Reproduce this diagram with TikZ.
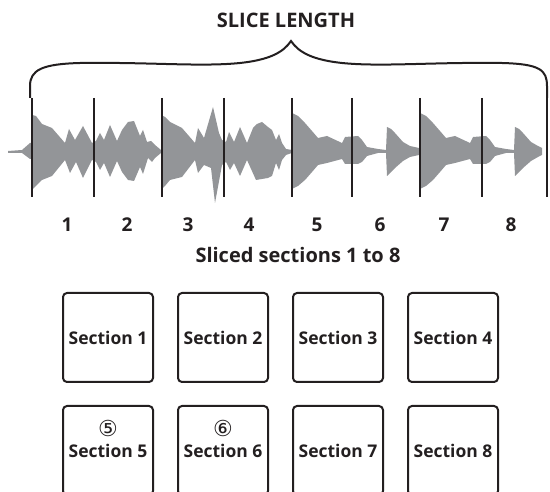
\documentclass[tikz,border=0pt]{standalone}
\usepackage{fontspec}
\setmainfont{Open Sans}
\newfontfamily\circfont{DejaVu Sans}
\usetikzlibrary{positioning}

\definecolor{wavegray}{RGB}{147,149,152}
\definecolor{inkblack}{RGB}{35,31,32}

\tikzset{
  pad/.style={draw=inkblack, line width=2pt, rounded corners=4pt,
    minimum width=90pt, minimum height=89pt, inner sep=0pt,
    font=\bfseries\fontsize{17.5}{20}\selectfont, text=inkblack},
  slicemark/.style={draw=inkblack, line width=2.5pt},
  slicenum/.style={font=\bfseries\fontsize{19}{22}\selectfont, text=inkblack},
  heading/.style={font=\bfseries\fontsize{20}{24}\selectfont, text=inkblack},
  circnum/.style={font=\circfont\fontsize{22}{24}\selectfont, text=inkblack, inner sep=0pt},
}

\begin{document}
\begin{tikzpicture}[x=1pt, y=-1pt]
 \useasboundingbox (0,0) rectangle (550,492);
 \clip (0,0) rectangle (550,492);

 % title and brace
 \node[heading] (title) at (286,20) {SLICE LENGTH};
 \draw[inkblack, line width=2pt]
   (30,98) -- (30,86) .. controls (30,70) and (42,64) .. (80,63)
   .. controls (150,62) and (200,67) .. (240,63)
   .. controls (268,60) and (283,53) .. (291,41)
   .. controls (299,53) and (314,60) .. (342,63)
   .. controls (382,67) and (432,62) .. (502,63)
   .. controls (540,64) and (547,70) .. (547,86) -- (547,98);

 % waveform, slices 1 to 4
 \fill[wavegray] (8,151) -- (22,150) -- (30,143) -- (32,143) -- (32,115) -- (36,116)
   -- (42,124) -- (52,128) -- (65,143) -- (69,129) -- (75,140) -- (83,126) -- (92,143)
   -- (96,141) -- (100,133) -- (104,140) -- (110,125) -- (117,141) -- (122,130)
   -- (128,122) -- (134,121) -- (140,136) -- (143,130) -- (147,142) -- (151,141)
   -- (155,145) -- (161,150)
   -- (161,153) -- (155,158) -- (152,162) -- (148,158) -- (143,174) -- (140,167)
   -- (134,181) -- (128,180) -- (122,172) -- (117,161) -- (110,177) -- (104,163)
   -- (100,170) -- (96,162) -- (92,160) -- (83,178) -- (76,162) -- (70,173)
   -- (65,160) -- (52,176) -- (42,180) -- (36,186) -- (32,190) -- (32,159)
   -- (30,159) -- (22,153) -- (8,153) -- cycle;
 \fill[wavegray] (161,115) -- (165,117) -- (170,122) -- (182,128) -- (195,143)
   -- (198,128) -- (204,138) -- (213,107) -- (219,133) -- (222,140) -- (226,142)
   -- (229,132) -- (234,142) -- (240,127) -- (247,143) -- (253,128) -- (257,124)
   -- (262,122) -- (268,127) -- (272,130) -- (276,140) -- (279,134) -- (282,143)
   -- (286,149) -- (292,150)
   -- (292,153) -- (286,155) -- (282,160) -- (279,170) -- (276,163) -- (272,176)
   -- (268,178) -- (262,179) -- (256,180) -- (247,160) -- (240,176) -- (234,163)
   -- (230,170) -- (226,162) -- (222,165) -- (215,203) -- (211,168) -- (204,165)
   -- (198,173) -- (195,160) -- (182,177) -- (170,180) -- (165,186) -- (161,190)
   -- cycle;

 % waveform, slices 5 to 8 (same hit twice)
 \foreach \s/\e in {0/419,128/414}{
  \begin{scope}[xshift=\s]
   \fill[wavegray] (292,113) -- (298,116) -- (305,123) -- (312,131) -- (318,138)
     -- (327,136) -- (342,143) -- (345,137) -- (358,136) -- (362,140) -- (367,147)
     -- (378,149) -- (386,150) -- (387,127) -- (391,129) -- (395,133) -- (403,142)
     -- (410,146) -- (\e,148)
     -- (\e,155) -- (410,157) -- (403,161) -- (395,168) -- (387,176) -- (386,153)
     -- (378,153) -- (367,156) -- (362,162) -- (358,164) -- (345,164) -- (342,159)
     -- (327,163) -- (318,165) -- (312,172) -- (305,180) -- (298,186) -- (292,189)
     -- cycle;
  \end{scope}
 }

 % slice markers
 \foreach \x in {32,94,162,224,292,352,420,482,547}
  \draw[slicemark] (\x,98) -- (\x,197);

 % slice numbers
 \foreach \x [count=\i] in {67,127,188,249,317,380,444,511}
  \node[slicenum] (num\i) at (\x,225) {\i};

 \node[heading] (caption) at (298,255) {Sliced sections 1 to 8};

 % performance pads
 \foreach \i in {1,...,4}{
  \node[pad] (pad\i) at (108+115*\i-115,337.5) {Section \i};
 }
 \foreach \i in {5,...,8}{
  \node[pad] (pad\i) at (108+115*\i-575,450.5) {Section \i};
 }
 \node[circnum] (circ5) at ([yshift=22pt]pad5.center) {⑤};
 \node[circnum] (circ6) at ([yshift=22pt]pad6.center) {⑥};

\end{tikzpicture}
\end{document}
